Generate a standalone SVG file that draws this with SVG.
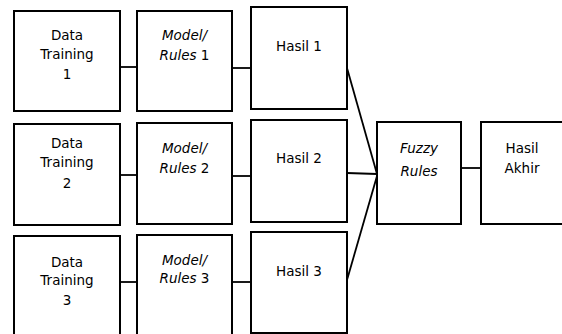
<svg xmlns="http://www.w3.org/2000/svg" width="562" height="334" viewBox="0 0 562 334">
<style>
.b{fill:#fff;stroke:#000;stroke-width:2}
.c{stroke:#000;stroke-width:1.8;fill:none}
text{font-family:"DejaVu Sans","Liberation Sans",sans-serif;font-size:13.5px;fill:#000;text-anchor:middle}
.i{font-style:italic}
</style>
<rect width="562" height="334" fill="#fff"/>
<g id="connectors">
<line class="c" x1="120" y1="67" x2="137" y2="67"/>
<line class="c" x1="232" y1="68" x2="251" y2="68"/>
<line class="c" x1="120" y1="175" x2="137" y2="175"/>
<line class="c" x1="232" y1="176" x2="251" y2="176"/>
<line class="c" x1="120" y1="282" x2="137" y2="282"/>
<line class="c" x1="232" y1="282" x2="251" y2="282"/>
<line class="c" x1="347" y1="68" x2="377" y2="174"/>
<line class="c" x1="347" y1="173" x2="377" y2="174"/>
<line class="c" x1="347" y1="280" x2="377" y2="176"/>
<line class="c" x1="461" y1="168" x2="481" y2="168"/>
</g>
<g id="dt1"><rect class="b" x="14" y="11" width="106" height="100"/><text x="67" y="40">Data</text><text x="67" y="59">Training</text><text x="67" y="79">1</text></g>
<g id="mr1"><rect class="b" x="137" y="11" width="95" height="100"/><text x="184.5" y="40"><tspan class="i">Model/</tspan></text><text x="184.5" y="60"><tspan class="i">Rules</tspan> 1</text></g>
<g id="h1"><rect class="b" x="251" y="7" width="96" height="102"/><text x="299" y="51">Hasil 1</text></g>
<g id="dt2"><rect class="b" x="14" y="124" width="106" height="101"/><text x="67" y="148">Data</text><text x="67" y="167">Training</text><text x="67" y="188">2</text></g>
<g id="mr2"><rect class="b" x="137" y="123" width="95" height="101"/><text x="184.5" y="153"><tspan class="i">Model/</tspan></text><text x="184.5" y="173"><tspan class="i">Rules</tspan> 2</text></g>
<g id="h2"><rect class="b" x="251" y="120" width="96" height="102"/><text x="299" y="163">Hasil 2</text></g>
<g id="dt3"><rect class="b" x="14" y="236" width="106" height="100"/><text x="67" y="267">Data</text><text x="67" y="285">Training</text><text x="67" y="305">3</text></g>
<g id="mr3"><rect class="b" x="137" y="235" width="95" height="100"/><text x="184.5" y="265"><tspan class="i">Model/</tspan></text><text x="184.5" y="283"><tspan class="i">Rules</tspan> 3</text></g>
<g id="h3"><rect class="b" x="251" y="232" width="96" height="101"/><text x="299" y="276">Hasil 3</text></g>
<g id="fr"><rect class="b" x="377" y="122" width="84" height="102"/><text class="i" x="419" y="153">Fuzzy</text><text class="i" x="419" y="176">Rules</text></g>
<g id="ha"><rect class="b" x="481" y="122" width="84" height="102"/><text x="522" y="153">Hasil</text><text x="522" y="173">Akhir</text></g>
</svg>
